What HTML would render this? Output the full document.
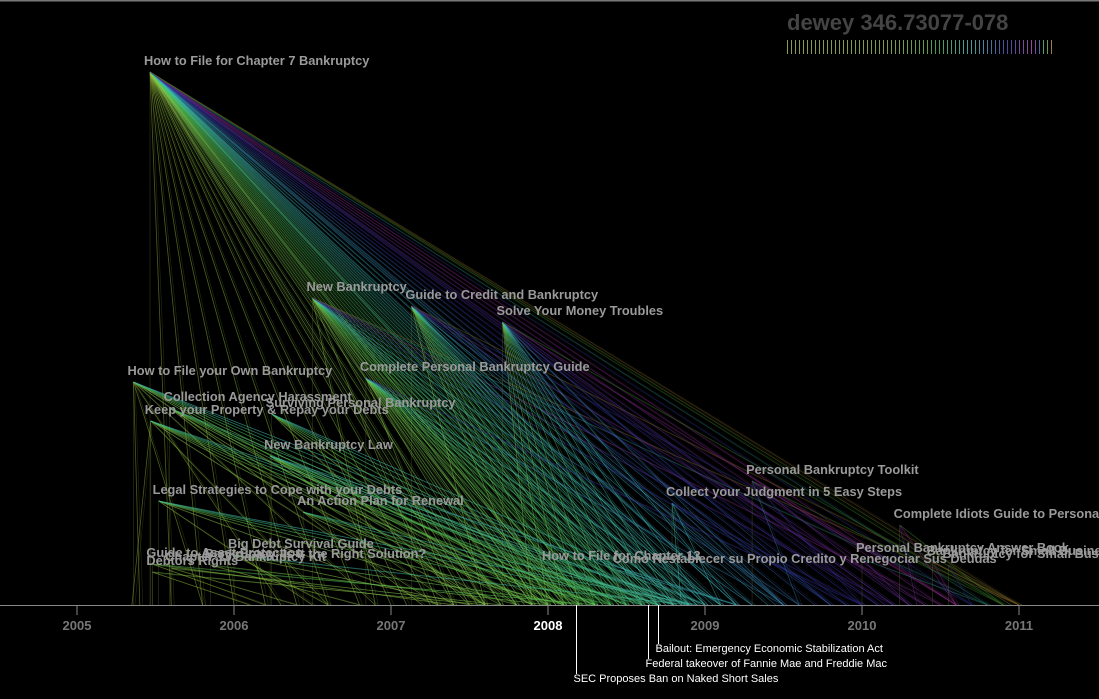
<!DOCTYPE html>
<html><head><meta charset="utf-8">
<style>
html,body{margin:0;padding:0;background:#000;}
svg{display:block;}
.lbl{font-family:"Liberation Sans",sans-serif;font-weight:bold;font-size:12.8px;fill:#9a9a9a;}
.yr{font-family:"Liberation Sans",sans-serif;font-weight:bold;font-size:13px;fill:#777;text-anchor:middle;}
.ev{font-family:"Liberation Sans",sans-serif;font-size:11px;fill:#fff;}
</style></head>
<body>
<svg id="chart" width="1099" height="699" viewBox="0 0 1099 699">
<rect x="0" y="0" width="1099" height="699" fill="#000"/>
<line x1="0" y1="0.5" x2="1099" y2="0.5" stroke="#777" stroke-width="2"/>
<text x="787" y="30" font-family="Liberation Sans,sans-serif" font-weight="bold" font-size="22" fill="#444">dewey 346.73077-078</text>
<g id="legend"></g>
<g id="lines"></g>
<g id="axis"></g>
<g id="labels"></g>
<g id="events"></g>
</svg>
<script>
const years = [2005,2006,2007,2008,2009,2010,2011];
const highlightYear = 2008;
const bookNames = ["How to File for Chapter 7 Bankruptcy","New Bankruptcy","Guide to Credit and Bankruptcy","Solve Your Money Troubles","How to File your Own Bankruptcy","Complete Personal Bankruptcy Guide","Collection Agency Harassment","Surviving Personal Bankruptcy","Keep your Property & Repay your Debts","New Bankruptcy Law","Personal Bankruptcy Toolkit","Collect your Judgment in 5 Easy Steps","Legal Strategies to Cope with your Debts","An Action Plan for Renewal","Complete Idiots Guide to Persona","Big Debt Survival Guide","Guide to Asset Protection","Chapter 13 Bankruptcy Kit","Bankruptcy: Is It the Right Solution?","Debtors Rights","How to File for Chapter 13","Como Restablecer su Propio Credito y Renegociar Sus Deudas","Personal Bankruptcy Answer Book","Bankruptcy for Small Business","Bankruptcy for Small Business"];
const bookDates = [2005.465,2006.50,2007.13,2007.71,2005.36,2006.84,2005.59,2006.24,2005.47,2006.23,2009.30,2008.79,2005.52,2006.44,2010.24,2006.0,2005.48,2005.6,2005.85,2005.48,2008.0,2008.45,2010.0,2010.45,2010.55];
const bookLevels = [533,307,299,283,223,227,197,191,184,149,124,102,104,93,80,50,41,37,40,33,38,35,46,43,40];
const bookTargets = [
 [2005.6,2005.8,2006.0,2006.2,2006.4,2006.6,2006.8,2007.0,2007.1,2007.25,2007.4,2007.5,2007.6,2007.7,2007.8,2007.85,2007.9,2007.95,2008.0,2008.05,2008.1,2008.15,2008.2,2008.25,2008.3,2008.35,2008.4,2008.45,2008.5,2008.55,2008.6,2008.65,2008.7,2008.75,2008.8,2008.85,2008.9,2008.95,2009.0,2009.1,2009.2,2009.3,2009.4,2009.5,2009.6,2009.7,2009.8,2009.9,2010.0,2010.1,2010.2,2010.3,2010.4,2010.5,2010.6,2010.7,2010.8,2010.9,2011.0,2007.55,2008.12,2008.62,2009.05,2009.45,2010.15,2010.95],
 [2006.9,2007.3,2007.6,2007.8,2007.95,2008.05,2008.15,2008.25,2008.35,2008.45,2008.55,2008.65,2008.75,2008.85,2008.95,2009.1,2009.3,2009.6,2009.9,2010.2,2010.5,2010.8,2011.0],
 [2007.6,2007.9,2008.0,2008.1,2008.2,2008.3,2008.4,2008.5,2008.6,2008.7,2008.8,2008.9,2009.0,2009.2,2009.5,2009.8,2010.1,2010.4,2010.7,2011.0],
 [2007.9,2008.0,2008.1,2008.2,2008.3,2008.4,2008.5,2008.6,2008.7,2008.8,2008.9,2009.0,2009.2,2009.5,2009.8,2010.2,2010.6,2010.9],
 [2005.4,2005.8,2006.3,2006.9,2007.4,2007.8,2008.0,2008.2,2008.4,2008.6,2008.8,2009.0],
 [2007.4,2007.7,2007.9,2008.0,2008.1,2008.2,2008.3,2008.4,2008.5,2008.6,2008.7,2008.8,2008.9,2009.1,2009.5,2010.0],
 [2007.2,2007.6,2007.9,2008.1,2008.3,2008.5,2008.7],
 [2007.5,2007.8,2008.0,2008.2,2008.4,2008.6,2008.8,2009.0],
 [2005.35,2006.6,2007.3,2007.7,2007.9,2008.1,2008.3,2008.5,2008.7,2008.9],
 [2007.6,2007.9,2008.1,2008.3,2008.5,2008.7,2008.9,2009.2],
 [2009.6,2010.0,2010.3,2010.6,2010.9],
 [2008.85,2009.1,2009.5,2010.0],
 [2006.5,2007.3,2007.8,2008.1,2008.4,2008.7,2008.95],
 [2007.6,2008.0,2008.3,2008.6,2008.9],
 [2010.35,2010.6,2010.9],
 [2006.6,2007.5,2008.2,2008.9],
 [2006.2,2007.4,2008.3],
 [2006.4,2007.7],
 [2006.8,2008.0],
 [2006.1,2007.6],
 [2008.3,2008.8],
 [2008.7,2009.2],
 [2010.3,2010.8],
 [2010.6,2011.0],
 [2010.7,2011.0]
];
const eventNames = ["SEC Proposes Ban on Naked Short Sales","Federal takeover of Fannie Mae and Freddie Mac","Bailout: Emergency Economic Stabilization Act"];
const eventDates = [2008.18,2008.64,2008.70];
const eventDepths = [67,52,37];

const AXY = 605, X0 = 77, PXY = 157;
const xs = d => X0 + (d - 2005) * PXY;
const ys = v => AXY - v;
const NS = "http://www.w3.org/2000/svg";
function mk(tag, attrs, parent){const e=document.createElementNS(NS,tag);for(const k in attrs)e.setAttribute(k,attrs[k]);parent.appendChild(e);return e;}
const hueStops=[[2005,70],[2007.5,85],[2008.2,105],[2008.8,160],[2009.5,200],[2010.1,250],[2010.6,300],[2011,40]];
function interp(stops,t){if(t<=stops[0][0])return stops[0][1];for(let i=1;i<stops.length;i++){const a=stops[i-1],b=stops[i];if(t<=b[0])return a[1]+(b[1]-a[1])*(t-a[0])/(b[0]-a[0]);}return stops[stops.length-1][1];}
const hue=t=>interp(hueStops,t);
const lightStops=[[2005,45],[2008.3,58],[2009.3,50],[2010.3,38],[2011,30]];
const light=t=>interp(lightStops,t);

// legend
const lg=document.getElementById('legend');
for(let i=0;i<67;i++){
 const t=2005+6*i/66;
 const l=mk('line',{x1:787.5+i*4,y1:40,x2:787.5+i*4,y2:54,stroke:`hsl(${hue(t)},35%,45%)`,'stroke-width':1},lg);
 
 
}

// lines
const lg2=document.getElementById('lines');
bookNames.forEach((n,i)=>{
 const x=xs(bookDates[i]), y=ys(bookLevels[i]);
 const v=mk('line',{x1:x,y1:y,x2:x,y2:AXY,stroke:'#6a7a30','stroke-width':0.6,'stroke-opacity':0.45},lg2);
 
 
 bookTargets[i].forEach((t,j)=>{
  const h=hue(t), L=light(t);
  const l=mk('line',{x1:x,y1:y,x2:xs(t),y2:AXY,stroke:`hsl(${h},55%,${L}%)`,'stroke-width':0.8,'stroke-opacity':0.5},lg2);
  
  
  const l2=mk('line',{x1:x+1.5,y1:y+1,x2:xs(t)+3,y2:AXY,stroke:`hsl(${h+10},45%,${L-8}%)`,'stroke-width':0.6,'stroke-opacity':0.3},lg2);
  
  
 });
});

// axis
const ax=document.getElementById('axis');
const al=mk('line',{x1:0,y1:AXY+0.5,x2:1099,y2:AXY+0.5,stroke:'#888','stroke-width':1},ax);


years.forEach(yr=>{
 const tk=mk('line',{x1:xs(yr),y1:AXY,x2:xs(yr),y2:AXY+10,stroke:'#888','stroke-width':1},ax);
 
 
 const t=mk('text',{x:xs(yr),y:AXY+25,class:'yr'},ax);
 if(yr===highlightYear)t.setAttribute('style','fill:#fff');
 t.textContent=yr;
 
 
});

// labels
const lb=document.getElementById('labels');
bookNames.forEach((n,i)=>{
 const t=mk('text',{x:xs(bookDates[i])-6,y:ys(bookLevels[i])-7,class:'lbl'},lb);
 t.textContent=n;
 
 
});

// events
const ev=document.getElementById('events');
eventNames.forEach((n,i)=>{
 const x=Math.round(xs(eventDates[i]))+0.5;
 const l=mk('line',{x1:x,y1:AXY,x2:x,y2:AXY+eventDepths[i]+2,stroke:'#fff','stroke-width':1},ev);
 
 
 const t=mk('text',{x:x-3,y:AXY+eventDepths[i]+10,class:'ev'},ev);
 t.textContent=n;
 
 
});
</script>
</body></html>
